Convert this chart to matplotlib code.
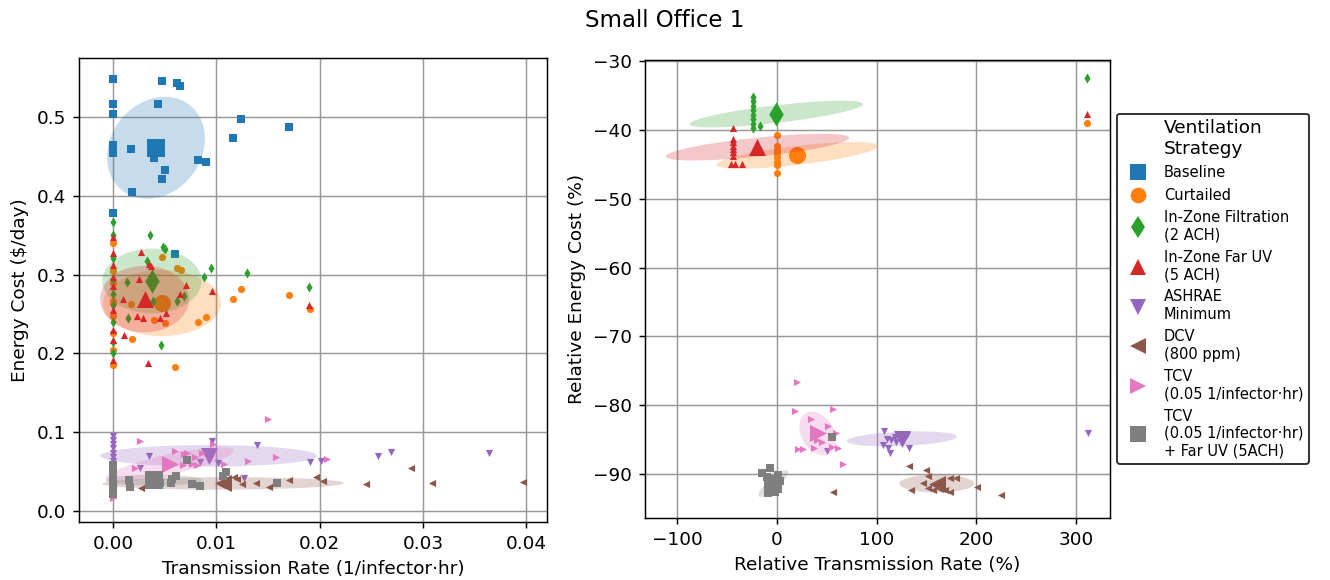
import numpy as np
import matplotlib
matplotlib.use("Agg")
import matplotlib.pyplot as plt
import matplotlib.transforms as transforms
from matplotlib.patches import Ellipse
from matplotlib.lines import Line2D


# ---------------------------------------------------------------------------
# Strategies (order matters: colours / markers follow it)
# ---------------------------------------------------------------------------

STRATEGIES = [
    "Baseline",
    "Curtailed",
    "In-Zone Filtration\n(2 ACH)",
    "In-Zone Far UV\n(5 ACH)",
    "ASHRAE\nMinimum",
    "DCV\n(800 ppm)",
    "TCV\n(0.05 1/infector\u00b7hr)",
    "TCV\n(0.05 1/infector\u00b7hr)\n+ Far UV (5ACH)",
]
MARKERS = ["s", "o", "d", "^", "v", "<", ">", "s"]
COLORS = [f"C{i}" for i in range(8)]

# ---------------------------------------------------------------------------
# Absolute results: transmission rate (1/infector.hr) vs energy cost ($/day)
# ---------------------------------------------------------------------------

ABS_RATE = [
    [0, 0.0047, 0.0062, 0.0065, 0, 0.0043, 0, 0.0124, 0.0170, 0.0116, 0,
     0.0017, 0, 0.0040, 0.0082, 0.0090, 0.0050, 0.0047, 0.0018, 0, 0.0060],
    [0.0047, 0.0062, 0.0066, 0.0124, 0.0116, 0.0170, 0.0191, 0.0017, 0.0090,
     0.0082, 0.0040, 0.0050, 0.0018, 0.0060, 0, 0, 0, 0, 0, 0, 0, 0, 0],
    [0.0036, 0.0048, 0.0050, 0.0033, 0.0095, 0.0088, 0.0013, 0.0069, 0.0062,
     0.0039, 0.0014, 0.0046, 0.0190, 0.0130, 0, 0, 0, 0, 0, 0, 0, 0, 0],
    [0.0027, 0.0035, 0.0037, 0.0025, 0.0071, 0.0096, 0.0065, 0.0010, 0.0051,
     0.0045, 0.0023, 0.0029, 0.0011, 0.0190, 0.0034, 0, 0, 0, 0, 0, 0, 0, 0, 0],
    [0, 0, 0, 0, 0, 0, 0, 0.0035, 0.0026, 0.0096, 0.0084, 0.0102, 0.0139,
     0.0127, 0.0191, 0.0201, 0.0256, 0.0269, 0.0364],
    [0, 0, 0.0027, 0.0117, 0.0120, 0.0125, 0.0138, 0.0151, 0.0170, 0.0196,
     0.0203, 0.0245, 0.0288, 0.0309, 0.0397, 0.0105],
    [0.0026, 0.0060, 0.0069, 0.0072, 0.0079, 0.0086, 0.0021, 0.0068, 0.0076,
     0.0081, 0.0097, 0.0107, 0.0150, 0.0131, 0.0158, 0.0207, 0, 0],
    [0, 0, 0, 0, 0, 0, 0, 0.0015, 0.0016, 0.0057, 0.0056, 0.0061, 0.0076,
     0.0084, 0.0072, 0.0106, 0.0109, 0.0159, 0.0035, 0.0045],
]
ABS_COST = [
    [0.548, 0.546, 0.543, 0.539, 0.517, 0.517, 0.504, 0.497, 0.488, 0.474,
     0.465, 0.459, 0.454, 0.448, 0.445, 0.443, 0.433, 0.421, 0.405, 0.378,
     0.326],
    [0.323, 0.309, 0.306, 0.282, 0.269, 0.274, 0.256, 0.263, 0.246, 0.240,
     0.242, 0.239, 0.218, 0.183, 0.340, 0.304, 0.289, 0.266, 0.247, 0.226,
     0.204, 0.185, 0.264],
    [0.350, 0.335, 0.333, 0.317, 0.309, 0.297, 0.291, 0.273, 0.267, 0.266,
     0.245, 0.211, 0.284, 0.302, 0.367, 0.350, 0.321, 0.295, 0.276, 0.261,
     0.240, 0.215, 0.200],
    [0.329, 0.314, 0.311, 0.295, 0.287, 0.279, 0.275, 0.269, 0.251, 0.245,
     0.248, 0.245, 0.223, 0.262, 0.188, 0.348, 0.327, 0.312, 0.297, 0.285,
     0.255, 0.230, 0.217, 0.192],
    [0.095, 0.090, 0.085, 0.080, 0.074, 0.069, 0.064, 0.070, 0.054, 0.089,
     0.062, 0.061, 0.084, 0.042, 0.062, 0.063, 0.070, 0.075, 0.073],
    [0.036, 0.031, 0.029, 0.043, 0.041, 0.034, 0.036, 0.031, 0.039, 0.043,
     0.038, 0.034, 0.054, 0.036, 0.037, 0.033],
    [0.089, 0.076, 0.072, 0.074, 0.069, 0.074, 0.055, 0.058, 0.060, 0.058,
     0.085, 0.060, 0.117, 0.064, 0.069, 0.066, 0.050, 0.017],
    [0.058, 0.050, 0.044, 0.038, 0.032, 0.026, 0.021, 0.039, 0.030, 0.040,
     0.035, 0.045, 0.034, 0.032, 0.065, 0.044, 0.050, 0.036, 0.042, 0.036],
]

ABS_MEAN_RATE = [0.00415, 0.00473, 0.00376, 0.00305, 0.00925, 0.01063,
                 0.00547, 0.00395]
ABS_MEAN_COST = [0.461, 0.264, 0.292, 0.269, 0.070, 0.035, 0.059, 0.039]

# spread of each cloud (rate, cost) and their correlation
ABS_SPREAD_RATE = [0.00474, 0.0057, 0.0048, 0.0043, 0.0105, 0.0117, 0.0062,
                   0.0047]
ABS_SPREAD_COST = [0.0648, 0.042, 0.041, 0.0423, 0.0137, 0.0079, 0.022, 0.007]
ABS_CORR = [0.18, 0.0, 0.0, 0.0, 0.0, 0.05, 0.8, 0.0]

# ---------------------------------------------------------------------------
# Relative to baseline (%); baseline itself is not drawn
# ---------------------------------------------------------------------------

REL_RATE = [
    [],
    [0, 0, 0, 0, 0, 0, 0, 0, 310.6],
    [-23.4, -23.4, -23.4, -23.4, -23.4, -23.4, -23.4, -23.4, -16.7, 310.6],
    [-43.5, -43.5, -43.5, -43.5, -43.5, -43.5, -43.5, -46.1, -41.8, -34.5,
     310.6],
    [107.5, 110.2, 114.2, 118.5, 106.2, 111.8, 113.5, 132.9, 126.9, 130.3,
     120.0, 50.1, 312.0],
    [132.6, 149.3, 151.9, 146.9, 173.6, 179.6, 151.9, 156.9, 163.6, 168.6,
     173.6, 134.6, 200.4, 224.4, 56.1],
    [20.7, 18.3, 56.7, 34.1, 51.7, 59.4, 45.1, 37.7, 55.1, 61.7, 21.6, 26.1,
     66.1, 40.0],
    [-14.4, -6.7, -10.0, 1.6, 3.3, -8.4, -1.7, -8.4, -5.0, 55.7],
]
REL_COST = [
    [],
    [-40.8, -42.3, -42.9, -43.4, -44.0, -44.6, -45.1, -46.2, -39.0],
    [-35.2, -35.8, -36.5, -37.1, -37.8, -38.4, -39.1, -39.75, -39.4, -32.5],
    [-39.75, -41.3, -41.8, -42.3, -42.8, -43.25, -43.75, -44.9, -44.9, -44.9,
     -37.7],
    [-83.7, -84.9, -85.1, -84.6, -85.8, -86.3, -86.9, -86.2, -84.4, -84.4,
     -85.3, -86.6, -84.0],
    [-88.9, -89.5, -90.3, -91.3, -90.6, -90.6, -92.1, -92.3, -92.2, -92.3,
     -92.6, -92.3, -91.85, -93.1, -92.6],
    [-76.6, -80.8, -80.6, -82.0, -83.0, -84.1, -85.4, -86.3, -86.1, -86.2,
     -86.4, -86.4, -88.6, -85.0],
    [-89.8, -89.2, -90.4, -90.1, -91.1, -92.3, -92.6, -92.8, -91.0, -84.6],
]

REL_MEAN_RATE = [None, 20.6, -0.4, -19.4, 125.2, 160.3, 41.0, -3.4]
REL_MEAN_COST = [None, -43.7, -37.7, -42.5, -84.9, -91.4, -84.1, -91.4]

REL_SPREAD_RATE = [None, 81, 87, 92, 55.3, 37.6, 18.3, 15]
REL_SPREAD_COST = [None, 1.94, 1.94, 1.94, 1.09, 1.29, 3.16, 1.94]
REL_CORR = [None, 0.7, 0.75, 0.7, 0.3, 0.0, -0.3, 0.85]


# ---------------------------------------------------------------------------
# Helpers
# ---------------------------------------------------------------------------

def spread_ellipse(ax, mx, my, sx, sy, corr, color):
    """Correlated spread ellipse centred on (mx, my)."""
    ell = Ellipse((0, 0), width=2 * np.sqrt(1 + corr),
                  height=2 * np.sqrt(1 - corr),
                  facecolor=color, edgecolor="none", alpha=0.25)
    trans = (transforms.Affine2D().rotate_deg(45).scale(sx, sy)
             .translate(mx, my))
    ell.set_transform(trans + ax.transData)
    ax.add_patch(ell)


def draw_panel(ax, xs, ys, mx, my, sx, sy, corr, skip=()):
    for i in range(len(STRATEGIES)):
        if i in skip:
            continue
        spread_ellipse(ax, mx[i], my[i], sx[i], sy[i], corr[i], COLORS[i])
        ax.scatter(xs[i], ys[i], s=15, marker=MARKERS[i], color=COLORS[i],
                   linewidths=0)
        ax.scatter([mx[i]], [my[i]], s=85, marker=MARKERS[i],
                   color=COLORS[i], linewidths=0)
    ax.set_axisbelow(True)
    ax.grid(True, color="0.6", linewidth=0.8)


# ---------------------------------------------------------------------------
# Figure
# ---------------------------------------------------------------------------

fig = plt.figure(figsize=(10, 580 / 133), dpi=133)
ax1 = fig.add_axes([0.0594, 0.100, 0.3519, 0.800])
ax2 = fig.add_axes([0.4850, 0.107, 0.3496, 0.790])

draw_panel(ax1, ABS_RATE, ABS_COST, ABS_MEAN_RATE, ABS_MEAN_COST,
           ABS_SPREAD_RATE, ABS_SPREAD_COST, ABS_CORR)
ax1.set_xlim(-0.0033, 0.0420)
ax1.set_ylim(-0.014, 0.575)
ax1.set_xticks([0.00, 0.01, 0.02, 0.03, 0.04])
ax1.set_xlabel("Transmission Rate (1/infector\u00b7hr)")
ax1.set_ylabel("Energy Cost (\\$/day)")

draw_panel(ax2, REL_RATE, REL_COST, REL_MEAN_RATE, REL_MEAN_COST,
           REL_SPREAD_RATE, REL_SPREAD_COST, REL_CORR, skip=(0,))
ax2.set_xlim(-132, 334)
ax2.set_ylim(-96.4, -29.8)
ax2.set_xticks([-100, 0, 100, 200, 300])
ax2.set_xlabel("Relative Transmission Rate (%)")
ax2.set_ylabel("Relative Energy Cost (%)")

handles = [Line2D([], [], marker=m, color=c, linestyle="none",
                  markersize=8.5, markeredgewidth=0)
           for m, c in zip(MARKERS, COLORS)]
leg = ax2.legend(handles, STRATEGIES, title="Ventilation\nStrategy",
                 loc="center left", bbox_to_anchor=(1.0, 0.5),
                 fontsize=7.9, title_fontsize=10, edgecolor="0.15",
                 framealpha=1)

fig.suptitle("Small Office 1", fontsize=12.4, y=0.985)

fig.savefig("out.png", dpi=133)
